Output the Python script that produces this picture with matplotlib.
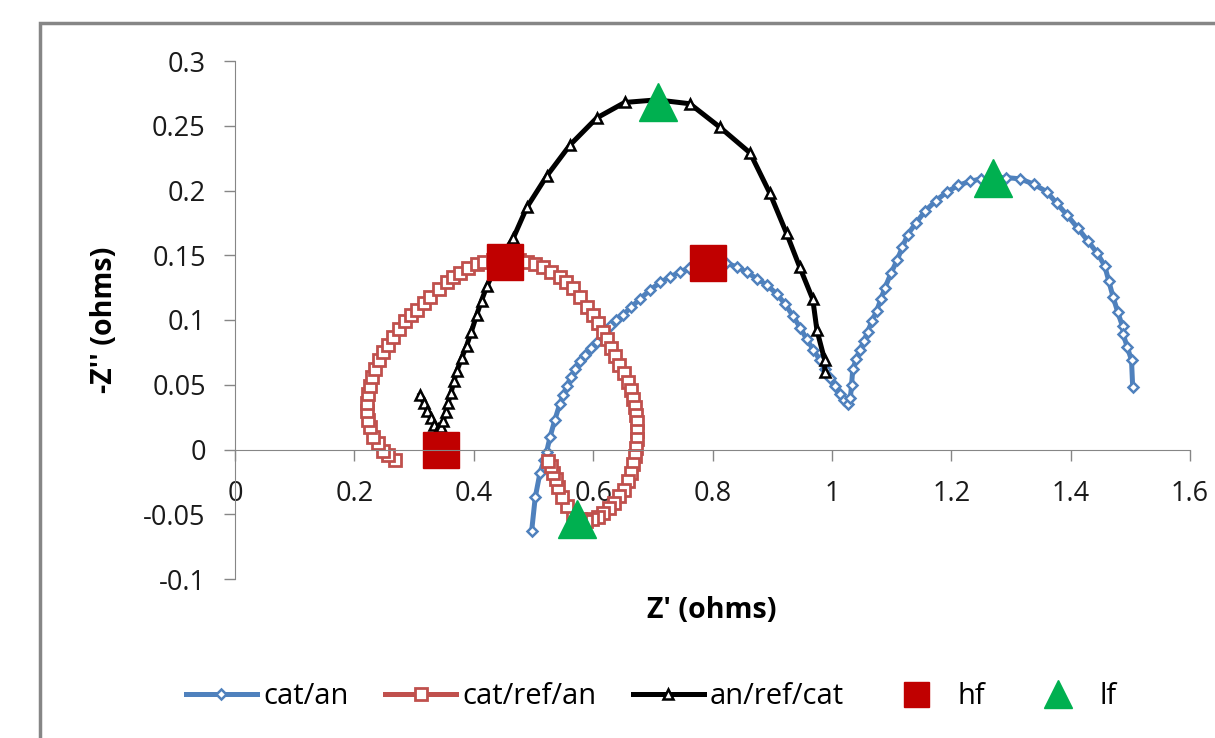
import numpy as np
import matplotlib
matplotlib.use("Agg")
import matplotlib.pyplot as plt
from matplotlib.patches import Rectangle

plt.rcParams['font.family'] = ['Open Sans', 'DejaVu Sans']
plt.rcParams['axes.unicode_minus'] = False

# cat/an
cat_an_x = [0.497, 0.503, 0.511, 0.518, 0.522, 0.528, 0.536, 0.544, 0.550, 0.556,
            0.563, 0.570, 0.578, 0.586, 0.596, 0.606, 0.617, 0.628, 0.639, 0.650,
            0.664, 0.678, 0.695, 0.712, 0.728, 0.745, 0.760, 0.774, 0.790, 0.805,
            0.822, 0.841, 0.857, 0.874, 0.891, 0.908, 0.922, 0.935, 0.947, 0.958,
            0.969, 0.980, 0.989, 0.997, 1.005, 1.013, 1.020, 1.027, 1.031, 1.033,
            1.035, 1.041, 1.047, 1.054, 1.060, 1.067, 1.075, 1.082, 1.089, 1.099,
            1.109, 1.118, 1.127, 1.141, 1.156, 1.174, 1.193, 1.212, 1.231, 1.250,
            1.270, 1.292, 1.315, 1.338, 1.360, 1.377, 1.394, 1.412, 1.429, 1.444,
            1.457, 1.464, 1.471, 1.479, 1.487, 1.488, 1.495, 1.502, 1.504]
cat_an_y = [-0.063, -0.037, -0.018, -0.008, -0.002, 0.010, 0.023, 0.035, 0.042, 0.049,
            0.056, 0.062, 0.068, 0.073, 0.078, 0.083, 0.089, 0.095, 0.100, 0.104,
            0.110, 0.116, 0.123, 0.129, 0.133, 0.137, 0.140, 0.143, 0.145, 0.145,
            0.144, 0.141, 0.137, 0.132, 0.127, 0.120, 0.112, 0.103, 0.094, 0.085,
            0.077, 0.069, 0.062, 0.055, 0.049, 0.043, 0.038, 0.035, 0.040, 0.050,
            0.062, 0.070, 0.077, 0.084, 0.091, 0.099, 0.107, 0.116, 0.125, 0.136,
            0.146, 0.156, 0.166, 0.175, 0.184, 0.192, 0.199, 0.204, 0.207, 0.209,
            0.210, 0.210, 0.209, 0.205, 0.199, 0.190, 0.181, 0.171, 0.161, 0.152,
            0.142, 0.130, 0.118, 0.106, 0.095, 0.089, 0.079, 0.069, 0.048]

# cat/ref/an
cat_ref_an_x = [0.268, 0.257, 0.248, 0.239, 0.231, 0.226, 0.223, 0.221, 0.221, 0.223,
                0.226, 0.230, 0.235, 0.241, 0.248, 0.256, 0.265, 0.275, 0.285, 0.295,
                0.305, 0.316, 0.327, 0.341, 0.355, 0.366, 0.377, 0.391, 0.405, 0.418,
                0.432, 0.445, 0.460, 0.475, 0.489, 0.503, 0.516, 0.530, 0.544, 0.555,
                0.566, 0.578, 0.590, 0.599, 0.608, 0.616, 0.623, 0.630, 0.637, 0.644,
                0.651, 0.658, 0.664, 0.667, 0.670, 0.672, 0.673, 0.673, 0.673, 0.672,
                0.670, 0.667, 0.664, 0.659, 0.652, 0.644, 0.635, 0.626, 0.617, 0.608,
                0.598, 0.588, 0.578, 0.567, 0.556, 0.548, 0.541, 0.537, 0.533, 0.530,
                0.525]
cat_ref_an_y = [-0.008, -0.004, -0.001, 0.005, 0.010, 0.017, 0.023, 0.030, 0.036, 0.043,
                0.049, 0.056, 0.062, 0.069, 0.075, 0.081, 0.087, 0.093, 0.099, 0.104,
                0.108, 0.113, 0.118, 0.124, 0.129, 0.133, 0.136, 0.140, 0.143, 0.145,
                0.146, 0.146, 0.146, 0.146, 0.145, 0.143, 0.141, 0.137, 0.133, 0.129,
                0.125, 0.118, 0.110, 0.104, 0.098, 0.091, 0.085, 0.078, 0.072, 0.065,
                0.059, 0.052, 0.046, 0.039, 0.033, 0.027, 0.021, 0.014, 0.008, 0.001,
                -0.005, -0.011, -0.018, -0.024, -0.031, -0.036, -0.041, -0.045, -0.049, -0.052,
                -0.054, -0.055, -0.054, -0.050, -0.044, -0.037, -0.029, -0.023, -0.018, -0.013,
                -0.009]

# an/ref/cat
an_ref_cat_x = [0.310, 0.316, 0.322, 0.328, 0.334, 0.340, 0.345, 0.349, 0.353, 0.357,
                0.362, 0.367, 0.372, 0.380, 0.388, 0.396, 0.405, 0.413, 0.422, 0.434,
                0.446, 0.466, 0.489, 0.522, 0.561, 0.606, 0.653, 0.707, 0.762, 0.812,
                0.863, 0.896, 0.924, 0.946, 0.968, 0.975, 0.988, 0.988]
an_ref_cat_y = [0.042, 0.036, 0.030, 0.024, 0.019, 0.016, 0.017, 0.022, 0.029, 0.036,
                0.044, 0.053, 0.061, 0.071, 0.080, 0.091, 0.104, 0.115, 0.126, 0.138,
                0.149, 0.163, 0.187, 0.211, 0.235, 0.256, 0.268, 0.270, 0.267, 0.249,
                0.229, 0.198, 0.167, 0.141, 0.116, 0.092, 0.069, 0.060]

# hf / lf points
hf_x = [0.345, 0.452, 0.793]
hf_y = [0.000, 0.145, 0.144]
lf_x = [0.573, 0.709, 1.270]
lf_y = [-0.054, 0.268, 0.210]

x_ticks = [0, 0.2, 0.4, 0.6, 0.8, 1.0, 1.2, 1.4, 1.6]
x_tick_labels = ['0', '0.2', '0.4', '0.6', '0.8', '1', '1.2', '1.4', '1.6']
y_ticks = [-0.1, -0.05, 0, 0.05, 0.1, 0.15, 0.2, 0.25, 0.3]
y_tick_labels = ['-0.1', '-0.05', '0', '0.05', '0.1', '0.15', '0.2', '0.25', '0.3']

BLUE = '#4F81BD'
RED = '#C0504D'
HF = '#C00000'
LF = '#00B050'
GREY = '#868686'

fig = plt.figure(figsize=(12.15, 7.38), dpi=100)
ax = fig.add_axes([235 / 1215, 1 - 579 / 738, (1190 - 235) / 1215, (579 - 61) / 738])

ax.plot(cat_an_x, cat_an_y, color=BLUE, lw=3.6, marker='D', ms=5.5, mfc='white',
        mec=BLUE, mew=1.8, label='cat/an')
ax.plot(cat_ref_an_x, cat_ref_an_y, color=RED, lw=3.6, marker='s', ms=8.5, mfc='white',
        mec=RED, mew=2, label='cat/ref/an')
ax.plot(an_ref_cat_x, an_ref_cat_y, color='black', lw=3.6, marker='^', ms=7.5, mfc='white',
        mec='black', mew=1.8, label='an/ref/cat')
ax.plot(hf_x, hf_y, ls='none', marker='s', ms=26, color=HF, mec=HF, label='hf')
ax.plot(lf_x, lf_y, ls='none', marker='^', ms=27, color=LF, mec=LF, label='lf')

ax.set_xlim(0, 1.6)
ax.set_ylim(-0.1, 0.3)
ax.set_xticks(x_ticks)
ax.set_xticklabels(x_tick_labels)
ax.set_yticks(y_ticks)
ax.set_yticklabels(y_tick_labels)

for s in ['top', 'right']:
    ax.spines[s].set_visible(False)
ax.spines['bottom'].set_position(('data', 0))
ax.spines['bottom'].set_color(GREY)
ax.spines['left'].set_color(GREY)
ax.tick_params(axis='both', direction='out', length=8, width=1, color=GREY,
               labelsize=19.5, labelcolor='#1a1a1a')
ax.tick_params(axis='x', pad=14)
ax.tick_params(axis='y', pad=13)

fig.text(105 / 1215, 1 - 320 / 738, "-Z'' (ohms)", rotation=90, ha='center',
         va='center', fontsize=20.5, fontweight='bold')
fig.text(712 / 1215, 1 - 610 / 738, "Z' (ohms)", ha='center', va='center',
         fontsize=20.5, fontweight='bold')

fig.legend(loc='center', bbox_to_anchor=(651 / 1215, 1 - 697 / 738), ncol=5,
           frameon=False, fontsize=21, handlelength=2.45, handletextpad=0.2,
           columnspacing=1.25)
leg = fig.legends[0]
leg.legend_handles[3].set_markersize(18)
leg.legend_handles[4].set_markersize(20)

# outer chart border
fig.add_artist(Rectangle((40 / 1215, -0.2), 1.2, 1.2 - 23 / 738,
                         transform=fig.transFigure, fill=False, ec=GREY, lw=2.5))

fig.savefig('out.png', dpi=100)
